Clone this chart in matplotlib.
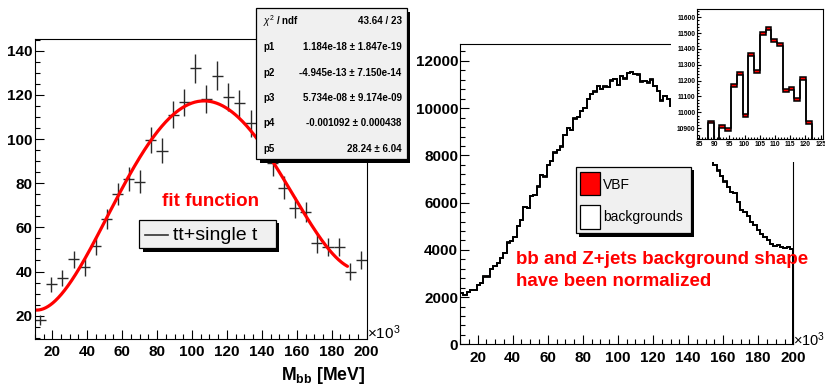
import numpy as np
import matplotlib
matplotlib.use('Agg')
import matplotlib.pyplot as plt
from matplotlib.patches import Rectangle
from matplotlib.lines import Line2D
from matplotlib.ticker import MultipleLocator

plt.rcParams['font.family'] = ['Liberation Sans', 'DejaVu Sans']
plt.rcParams['mathtext.fontset'] = 'custom'
plt.rcParams['mathtext.rm'] = 'Liberation Sans'
plt.rcParams['mathtext.bf'] = 'Liberation Sans:bold'
plt.rcParams['mathtext.it'] = 'Liberation Sans:italic'

W, H = 825, 385

# ---------------- data: left panel (tt + single t) ----------------
tt_range = (10, 200)
tt_nbins = 30
tt_counts = [18, 34.3, 37, 45.5, 42, 51.5, 63.8, 75, 82, 80.7,
             99.5, 94.7, 111, 116.6, 132, 118, 128.7, 119.2, 116.2, 107.1,
             97, 89, 78, 69, 67, 52.8, 51.2, 51.2, 40, 45.2]
tt_errors = [2.4, 3.4, 3.5, 3.9, 3.8, 4.2, 4.6, 5.0, 5.3, 5.2,
             5.8, 5.6, 6.1, 6.2, 6.7, 6.3, 6.6, 6.3, 6.2, 6.0,
             5.7, 5.5, 5.1, 4.8, 4.7, 4.2, 4.2, 4.2, 3.7, 3.9]
fit_params = [1.184e-18, -4.945e-13, 5.734e-08, -0.001092, 28.24]
fit_range = (10, 189)
stats_labels = [r'$\chi^{2}$ / ndf', 'p1', 'p2', 'p3', 'p4', 'p5']
stats_values = ['43.64 / 23', '1.184e-18 ± 1.847e-19', '-4.945e-13 ± 7.150e-14',
                '5.734e-08 ± 9.174e-09', '-0.001092 ± 0.000438', '28.24 ± 6.04']

# ---------------- data: right panel (stack) ----------------
hist_range = (10, 200)
hist_nbins = 100
bkg_counts = [2160, 2090, 2230, 2300, 2300, 2510, 2610, 2870, 2870, 3180,
              3320, 3460, 3640, 3850, 4310, 4390, 4560, 5010, 5270, 5800,
              5760, 6280, 6330, 6680, 7170, 7100, 7600, 7770, 8120, 8230,
              8370, 8870, 9150, 9080, 9560, 9610, 9880, 10000, 10380, 10590,
              10700, 10930, 10802, 10900, 10883, 11162, 11237, 10970, 11358, 11249,
              11486, 11518, 11444, 11417, 11128, 11141, 11071, 11205, 10926, 10730,
              10320, 10520, 10380, 10090, 9950, 9800, 9620, 9450, 9200, 9000,
              8750, 8550, 8300, 8100, 7900, 7765, 7596, 7356, 7130, 6890,
              6650, 6466, 6424, 6043, 5690, 5605, 5436, 5196, 5054, 4843,
              4673, 4560, 4419, 4250, 4165, 4207, 4140, 4094, 4110, 4024]
vbf_counts = [1, 1, 1, 1, 1, 2, 2, 2, 2, 2, 2, 3, 3, 3, 3, 3, 4, 4, 4, 5,
              5, 5, 6, 6, 6, 7, 7, 8, 8, 9, 9, 10, 10, 11, 11, 12, 13, 14, 14, 15,
              16, 17, 17, 18, 18, 18, 19, 19, 19, 19, 19, 19, 19, 19, 18, 18, 18, 17, 17, 16,
              15, 15, 14, 13, 13, 12, 11, 11, 10, 9, 9, 8, 8, 7, 7, 6, 6, 5, 5, 5,
              4, 4, 4, 3, 3, 3, 3, 3, 2, 2, 2, 2, 2, 2, 2, 1, 1, 1, 1, 1]
legend_labels = ['VBF', 'backgrounds']


def fx(px):
    return px / W


def fy(py):
    return 1 - py / H


def rect_px(x0, y0, x1, y1, **kw):
    return Rectangle((fx(x0), fy(y1)), (x1 - x0) / W, (y1 - y0) / H,
                     transform=fig.transFigure, **kw)


def style_axes(ax, size=11, major=6.5, minor=3.5, width=0.8):
    ax.tick_params(which='both', direction='in', top=False, right=False,
                   labelsize=size, width=width)
    ax.tick_params(which='major', length=major)
    ax.tick_params(which='minor', length=minor)
    for lab in ax.get_xticklabels() + ax.get_yticklabels():
        lab.set_fontweight('bold')
    for s in ax.spines.values():
        s.set_linewidth(width)


fig = plt.figure(figsize=(W / 100, H / 100), dpi=100)

# ---------------- left panel ----------------
axL = fig.add_axes([fx(34.8), fy(339.3), (366.7 - 34.8) / W, 300 / H])
edges_tt = np.linspace(tt_range[0], tt_range[1], tt_nbins + 1)
centers_tt = 0.5 * (edges_tt[:-1] + edges_tt[1:])
halfw = 0.5 * (edges_tt[1] - edges_tt[0])
axL.errorbar(centers_tt, tt_counts, yerr=tt_errors, xerr=halfw, fmt='none',
             ecolor='#2a2a2a', elinewidth=1.0, capsize=0)
xf = np.linspace(fit_range[0], fit_range[1], 400)
xm = xf * 1000.0
yf = np.polyval(fit_params, xm)
axL.plot(xf, yf, color='#ff0000', lw=2.3, solid_capstyle='round')
axL.set_xlim(10, 200)
axL.set_ylim(9.3, 145.2)
axL.set_xticks(np.arange(20, 201, 20))
axL.set_yticks(np.arange(20, 141, 20))
axL.xaxis.set_minor_locator(MultipleLocator(5))
axL.yaxis.set_minor_locator(MultipleLocator(5))
style_axes(axL)
axL.tick_params(axis='x', pad=4)
axL.tick_params(axis='y', pad=1.5)

# stats box
fig.add_artist(rect_px(259.5, 11.6, 410.2, 162.6, facecolor='black', edgecolor='none', zorder=1.5))
fig.add_artist(rect_px(256, 8.3, 406.7, 159.3, facecolor='#f0f0f0', edgecolor='black', lw=0.9, zorder=1.6))
row_y = [20.7, 47.3, 72.7, 98.3, 123.3, 149.3]
for lab, val, yy in zip(stats_labels, stats_values, row_y):
    fig.text(fx(263.3), fy(yy), lab, fontsize=7, fontweight='bold', ha='left', va='center', zorder=3)
    fig.text(fx(401.7), fy(yy), val, fontsize=7, fontweight='bold', ha='right', va='center', zorder=3)

# left legend
fig.add_artist(rect_px(142.5, 223.3, 279.2, 251.6, facecolor='black', edgecolor='none', zorder=1.5))
fig.add_artist(rect_px(139.3, 220, 276, 248.3, facecolor='#f0f0f0', edgecolor='black', lw=0.9, zorder=1.6))
fig.add_artist(Line2D([fx(145), fx(168)], [fy(235), fy(235)], transform=fig.transFigure,
                      color='#333333', lw=1.2, zorder=3))
fig.text(fx(173), fy(235), 'tt+single t', fontsize=14, ha='left', va='center', zorder=3)
fig.text(fx(210.8), fy(201.7), 'fit function', fontsize=13.5, fontweight='bold',
         color='#ff0000', ha='center', va='center', zorder=3)
fig.text(fx(367), fy(333), r'$\times$10$^{3}$', fontsize=11, ha='left', va='center')
fig.text(fx(365.5), fy(376), r'$\mathbf{M_{bb}}$ [MeV]', fontsize=12.7, fontweight='bold',
         ha='right', va='center')

# ---------------- right panel ----------------
axR = fig.add_axes([fx(460.1), fy(344.3), (793.3 - 460.1) / W, (344.3 - 43.7) / H])
edges_h = np.linspace(hist_range[0], hist_range[1], hist_nbins + 1)
bkg = np.array(bkg_counts, float)
tot = bkg + np.array(vbf_counts, float)
axR.stairs(tot, edges_h, fill=True, color='#ff0000', lw=0)
axR.stairs(bkg, edges_h, fill=True, color='white', lw=0)
axR.stairs(tot, edges_h, color='black', lw=1.3)
axR.stairs(bkg, edges_h, color='black', lw=1.3)
axR.set_xlim(10, 200)
axR.set_ylim(0, 12730)
axR.set_xticks(np.arange(20, 201, 20))
axR.set_yticks(np.arange(0, 12001, 2000))
axR.xaxis.set_minor_locator(MultipleLocator(5))
axR.yaxis.set_minor_locator(MultipleLocator(400))
style_axes(axR)
axR.tick_params(axis='x', pad=4.5)
axR.tick_params(axis='y', pad=1.5)
fig.text(fx(793.3), fy(340), r'$\times$10$^{3}$', fontsize=10.5, ha='left', va='center')

# white pad of the inset
fig.add_artist(rect_px(671, 0, 826, 161.7, facecolor='white', edgecolor='none', zorder=1))

# right legend
fig.add_artist(rect_px(578.9, 169.9, 694.2, 236.5, facecolor='black', edgecolor='none', zorder=1.5))
fig.add_artist(rect_px(575.7, 166.7, 691, 233.3, facecolor='#f0f0f0', edgecolor='black', lw=0.9, zorder=1.6))
fig.add_artist(rect_px(580, 171.7, 600, 195, facecolor='#ff0000', edgecolor='black', lw=0.9, zorder=2))
fig.add_artist(rect_px(580, 205, 600, 229.3, facecolor='white', edgecolor='black', lw=0.9, zorder=2))
fig.text(fx(603.3), fy(185), legend_labels[0], fontsize=10, ha='left', va='center', zorder=3)
fig.text(fx(603.3), fy(216.7), legend_labels[1], fontsize=10, ha='left', va='center', zorder=3)
fig.text(fx(516), fy(260), 'bb and Z+jets background shape', fontsize=13.5, fontweight='bold',
         color='#ff0000', ha='left', va='center', zorder=3)
fig.text(fx(516), fy(281), 'have been normalized', fontsize=13.5, fontweight='bold',
         color='#ff0000', ha='left', va='center', zorder=3)

# ---------------- inset ----------------
axI = fig.add_axes([fx(696.7), fy(139.3), (823 - 696.7) / W, 130 / H], zorder=2)
axI.stairs(tot, edges_h, fill=True, color='#ff0000', lw=0)
axI.stairs(bkg, edges_h, fill=True, color='white', lw=0)
axI.stairs(tot, edges_h, color='black', lw=1.1)
axI.stairs(bkg, edges_h, color='black', lw=1.1)
axI.set_xlim(84.2, 125.8)
axI.set_ylim(10830, 11650)
axI.set_xticks(np.arange(85, 126, 5))
axI.set_yticks(np.arange(10900, 11601, 100))
axI.xaxis.set_minor_locator(MultipleLocator(1))
axI.yaxis.set_minor_locator(MultipleLocator(20))
style_axes(axI, size=4.8, major=3, minor=1.5, width=0.8)
axI.tick_params(axis='x', pad=1.5)
axI.tick_params(axis='y', pad=1)

fig.savefig('out.png', dpi=100)
